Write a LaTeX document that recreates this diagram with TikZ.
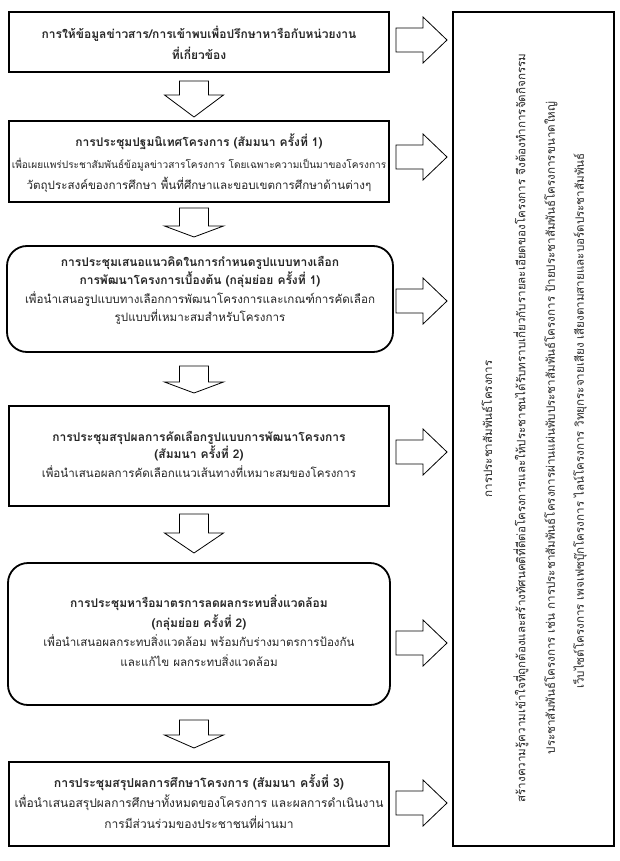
\documentclass[tikz,border=0pt]{standalone}
\usepackage{fontspec}
\newfontfamily\thai[Script=Thai]{Loma}
\usetikzlibrary{calc}
\newcommand\hd[1]{{\bfseries\fontsize{12}{12}\selectfont #1}}
\tikzset{
  box/.style={draw, line width=1.8pt, minimum width=380pt, inner sep=0pt},
  roundbox/.style={box, rounded corners=20pt, minimum width=386pt},
  txt/.style={align=center, inner sep=0pt, text=black!85},
  side/.style={txt, rotate=90},
  blk/.style={draw, line width=0.8pt, fill=white, line join=miter},
  bigbox/.style={draw, line width=2.6pt, inner sep=0pt},
}
\newcommand\downarr[4]{% x, ytop, yhead, ytip
  \draw[blk] (#1-14.5,#2) -- (#1+14.5,#2) -- (#1+14.5,#3) -- (#1+29.5,#3) -- (#1,#4)
    -- (#1-29.5,#3) -- (#1-14.5,#3) -- cycle;}
\newcommand\rightarr[1]{% y centre
  \draw[blk] (396,#1-12) -- (423,#1-12) -- (423,#1-23) -- (447,#1) -- (423,#1+23)
    -- (423,#1+12) -- (396,#1+12) -- cycle;}
\begin{document}
\begin{tikzpicture}[x=1pt,y=-1pt, font=\thai\fontsize{11.6}{20}\selectfont]
\useasboundingbox[fill=white] (0,0) rectangle (620,861);

% left boxes
\node[box, minimum height=60pt] (b1) at (199,42) {};
\node[txt, font=\thai\fontsize{12}{21}\selectfont] (t1) at (199,42.5)
  {\hd{การให้ข้อมูลข่าวสาร/การเข้าพบเพื่อปรึกษาหารือกับหน่วยงาน}\\\hd{ที่เกี่ยวข้อง}};

\node[box, minimum height=81pt] (b2) at (199,161.5) {};
\node[txt, font=\thai\fontsize{11.6}{21.5}\selectfont] (t2) at (199,163.5)
  {\hd{การประชุมปฐมนิเทศโครงการ (สัมมนา ครั้งที่ 1)}\\
   {\fontsize{10.1}{10}\selectfont เพื่อเผยแพร่ประชาสัมพันธ์ข้อมูลข่าวสารโครงการ โดยเฉพาะความเป็นมาของโครงการ}\\
   วัตถุประสงค์ของการศึกษา พื้นที่ศึกษาและขอบเขตการศึกษาด้านต่างๆ};

\node[roundbox, minimum height=106pt] (b3) at (200,299) {};
\node[txt, font=\thai\fontsize{11.6}{18.5}\selectfont] (t3) at (200,290.5)
  {\hd{การประชุมเสนอแนวคิดในการกำหนดรูปแบบทางเลือก}\\
   \hd{การพัฒนาโครงการเบื้องต้น (กลุ่มย่อย ครั้งที่ 1)}\\
   เพื่อนำเสนอรูปแบบทางเลือกการพัฒนาโครงการและเกณฑ์การคัดเลือก\\
   รูปแบบที่เหมาะสมสำหรับโครงการ};

\node[box, minimum height=100pt] (b4) at (199,456) {};
\node[txt, font=\thai\fontsize{11.6}{17.5}\selectfont] (t4) at (199,454.5)
  {\hd{การประชุมสรุปผลการคัดเลือกรูปแบบการพัฒนาโครงการ}\\
   \hd{(สัมมนา ครั้งที่ 2)}\\[1.5pt]
   เพื่อนำเสนอผลการคัดเลือกแนวเส้นทางที่เหมาะสมของโครงการ};

\node[roundbox, minimum height=142pt, minimum width=382pt] (b5) at (199,634) {};
\node[txt, font=\thai\fontsize{11.6}{19.5}\selectfont] (t5) at (199,631)
  {\hd{การประชุมหารือมาตรการลดผลกระทบสิ่งแวดล้อม}\\
   \hd{(กลุ่มย่อย ครั้งที่ 2)}\\
   เพื่อนำเสนอผลกระทบสิ่งแวดล้อม พร้อมกับร่างมาตรการป้องกัน\\
   และแก้ไข ผลกระทบสิ่งแวดล้อม};

\node[box, minimum height=84pt] (b6) at (199,804) {};
\node[txt, font=\thai\fontsize{12}{20.5}\selectfont] (t6) at (199,801.5)
  {{\bfseries\fontsize{12.3}{12}\selectfont การประชุมสรุปผลการศึกษาโครงการ (สัมมนา ครั้งที่ 3)}\\
   เพื่อนำเสนอสรุปผลการศึกษาทั้งหมดของโครงการ และผลการดำเนินงาน\\
   การมีส่วนร่วมของประชาชนที่ผ่านมา};

% down arrows
\downarr{194}{81}{95}{117}
\downarr{194}{208}{226}{237}
\downarr{194}{366}{382}{393}
\downarr{194}{514}{533}{553}
\downarr{194}{720}{735}{748}

% right arrows
\rightarr{40}
\rightarr{157}
\rightarr{301}
\rightarr{452}
\rightarr{643}
\rightarr{803}

% right box
\node[bigbox, minimum width=161pt, minimum height=834pt] (rb) at (533.5,429) {};
\node[side] (r0) at (487,429) {การประชาสัมพันธ์โครงการ};
\node[side] (r1) at (521,428) {สร้างความรู้ความเข้าใจที่ถูกต้องและสร้างทัศนคติที่ดีต่อโครงการและให้ประชาชนได้รับทราบเกี่ยวกับรายละเอียดของโครงการ จึงต้องทำการจัดกิจกรรม};
\node[side] (r2) at (551,428) {ประชาสัมพันธ์โครงการ เช่น การประชาสัมพันธ์โครงการผ่านแผ่นพับประชาสัมพันธ์โครงการ ป้ายประชาสัมพันธ์โครงการขนาดใหญ่};
\node[side] (r3) at (580,421) {เว็บไซต์โครงการ เพจเฟซบุ๊กโครงการ ไลน์โครงการ วิทยุกระจายเสียง เสียงตามสายและบอร์ดประชาสัมพันธ์};
\end{tikzpicture}
\end{document}
